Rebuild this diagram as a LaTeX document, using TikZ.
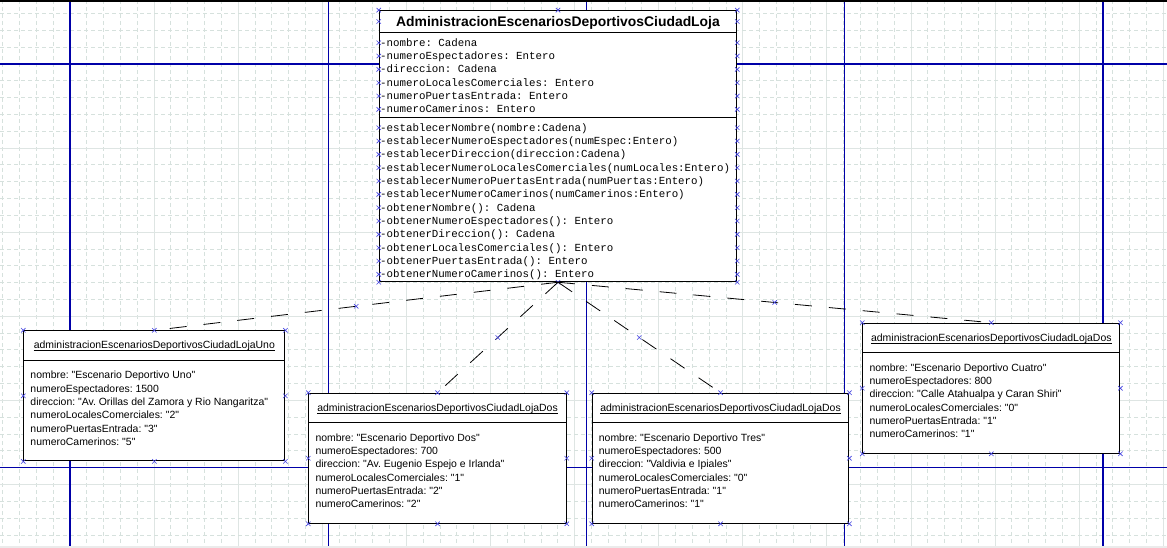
\documentclass[tikz,border=0pt]{standalone}
\usepackage{fontspec}
\usetikzlibrary{calc}
\newfontfamily\codefont{Liberation Mono}
\newfontfamily\objfont{Liberation Sans}
\definecolor{pagebreak}{RGB}{0,0,168}
\definecolor{gridminor}{RGB}{214,225,221}
\definecolor{gridmajor}{RGB}{222,229,227}
\definecolor{handlecol}{RGB}{70,70,225}

\tikzset{
  boxline/.style={draw=black, line width=1.1pt},
  classbox/.style={boxline, fill=white, inner sep=0pt, minimum width=357.4pt, minimum height=271pt},
  objbox/.style={boxline, fill=white, inner sep=0pt, minimum height=130pt},
  classtitle/.style={anchor=base, inner sep=0pt, font=\objfont\bfseries\fontsize{13.9}{16}\selectfont},
  codetext/.style={anchor=base west, inner sep=0pt, font=\codefont\fontsize{10.8}{13}\selectfont},
  objhead/.style={anchor=base, inner sep=0pt, font=\objfont\fontsize{10.45}{12}\selectfont},
  objtext/.style={anchor=base west, inner sep=0pt, font=\objfont\fontsize{10.45}{12}\selectfont},
  depline/.style={draw=black, line width=0.8pt, dash pattern=on 17pt off 17pt},
  pageline/.style={draw=pagebreak, line width=1.1pt},
  selmark/.pic={\draw[handlecol, line width=0.6pt] (-2.2,-2.2) -- (2.2,2.2) (-2.2,2.2) -- (2.2,-2.2);}
}

% object box: name, left, top, width, header, body lines
\newcommand\objectbox[6]{%
  \node[objbox, minimum width=#4pt, anchor=north west] (#1) at (#2,#3) {};
  \draw[boxline] ($(#1.north west)+(0,30)$) -- ($(#1.north east)+(0,30)$);
  \node[objhead] (#1h) at ($(#1.north)+(0,18.3)$) {#5};
  \draw[black, line width=0.8pt] ($(#1h.base west)+(0,2)$) -- ($(#1h.base east)+(0,2)$);
  \foreach [count=\j] \t in {#6}
    \node[objtext] (#1l\j) at ($(#1.north west)+(7,{48.5+13.33*(\j-1)})$) {\t};
  \foreach \a in {north west,north,north east,west,east,south west,south,south east}
    \pic at (#1.\a) {selmark};
}

\begin{document}
\frenchspacing
\begin{tikzpicture}[x=1pt,y=-1pt]
\useasboundingbox (0,0) rectangle (1167,548);
\fill[white] (0,0) rectangle (1167,548);

% background grid
\foreach \k in {-4,...,65}{
  \pgfmathsetmacro\gx{70+16.82*\k}
  \pgfmathtruncatemacro\r{mod(\k+100,5)}
  \ifnum\r=0
    \draw[gridmajor, line width=0.9pt] (\gx,0) -- (\gx,548);
  \else
    \draw[gridminor, line width=0.9pt, dash pattern=on 4pt off 3pt] (\gx,0) -- (\gx,548);
  \fi
}
\foreach \k in {-3,...,28}{
  \pgfmathsetmacro\gy{64+16.82*\k}
  \pgfmathtruncatemacro\r{mod(\k+100,5)}
  \ifnum\r=0
    \draw[gridmajor, line width=0.9pt] (0,\gy) -- (1167,\gy);
  \else
    \draw[gridminor, line width=0.9pt, dash pattern=on 4pt off 3pt] (0,\gy) -- (1167,\gy);
  \fi
}

% page breaks
\foreach \px in {70,328.3,586.5,844.8,1103}
  \draw[pageline] (\px,0) -- (\px,548);
\foreach \py in {64,467.5}
  \draw[pageline] (0,\py) -- (1167,\py);

\fill[black] (0,0) rectangle (1167,2);
\fill[black!8] (0,545.5) rectangle (1167,548);

% class box
\node[classbox] (main) at (558,146.2) {};
\node[classtitle] (title) at ($(main.north)+(0,16)$) {AdministracionEscenariosDeportivosCiudadLoja};
\draw[boxline] ($(main.north west)+(0,22.6)$) -- ($(main.north east)+(0,22.6)$);
\draw[boxline] ($(main.north west)+(0,107)$) -- ($(main.north east)+(0,107)$);

\foreach [count=\i] \t in {
  -nombre: Cadena,
  -numeroEspectadores: Entero,
  -direccion: Cadena,
  -numeroLocalesComerciales: Entero,
  -numeroPuertasEntrada: Entero,
  -numeroCamerinos: Entero}
  \node[codetext] (attr\i) at ($(main.north west)+(1.2,{36+13.33*(\i-1)})$) {\t};

\foreach [count=\i] \t in {
  -establecerNombre(nombre:Cadena),
  -establecerNumeroEspectadores(numEspec:Entero),
  -establecerDireccion(direccion:Cadena),
  -establecerNumeroLocalesComerciales(numLocales:Entero),
  -establecerNumeroPuertasEntrada(numPuertas:Entero),
  -establecerNumeroCamerinos(numCamerinos:Entero),
  -obtenerNombre(): Cadena,
  -obtenerNumeroEspectadores(): Entero,
  -obtenerDireccion(): Cadena,
  -obtenerLocalesComerciales(): Entero,
  -obtenerPuertasEntrada(): Entero,
  -obtenerNumeroCamerinos(): Entero}
  \node[codetext] (op\i) at ($(main.north west)+(1.2,{121+13.33*(\i-1)})$) {\t};

% selection handles of the class box
\foreach \a in {north west,north,north east,south west,south,south east}
  \pic at (main.\a) {selmark};
\pic at ($(main.west |- title.base)+(0,-4.7)$) {selmark};
\pic at ($(main.east |- title.base)+(0,-4.7)$) {selmark};
\foreach \i in {1,...,6}{
  \pic at ($(main.west |- attr\i.base)+(0,-3.4)$) {selmark};
  \pic at ($(main.east |- attr\i.base)+(0,-3.4)$) {selmark};
}
\foreach \i in {1,...,12}{
  \pic at ($(main.west |- op\i.base)+(0,-3.4)$) {selmark};
  \pic at ($(main.east |- op\i.base)+(0,-3.4)$) {selmark};
}

% instances
\objectbox{uno}{23.3}{330.3}{261}{administracionEscenariosDeportivosCiudadLojaUno}{
  nombre: "Escenario Deportivo Uno",
  numeroEspectadores: 1500,
  direccion: "Av. Orillas del Zamora y Rio Nangaritza",
  numeroLocalesComerciales: "2",
  numeroPuertasEntrada: "3",
  numeroCamerinos: "5"}
\objectbox{dos}{308.3}{392.7}{257.4}{administracionEscenariosDeportivosCiudadLojaDos}{
  nombre: "Escenario Deportivo Dos",
  numeroEspectadores: 700,
  direccion: "Av. Eugenio Espejo e Irlanda",
  numeroLocalesComerciales: "1",
  numeroPuertasEntrada: "2",
  numeroCamerinos: "2"}
\objectbox{tres}{591.7}{392.7}{256.6}{administracionEscenariosDeportivosCiudadLojaDos}{
  nombre: "Escenario Deportivo Tres",
  numeroEspectadores: 500,
  direccion: "Valdivia e Ipiales",
  numeroLocalesComerciales: "0",
  numeroPuertasEntrada: "1",
  numeroCamerinos: "1"}
\objectbox{cuatro}{862.3}{322.7}{257}{administracionEscenariosDeportivosCiudadLojaDos}{
  nombre: "Escenario Deportivo Cuatro",
  numeroEspectadores: 800,
  direccion: "Calle Atahualpa y Caran Shiri",
  numeroLocalesComerciales: "0",
  numeroPuertasEntrada: "1",
  numeroCamerinos: "1"}

% instance dependencies
\foreach \o/\m in {uno/m1,dos/m2,tres/m3,cuatro/m4}{
  \draw[depline] (main.south) -- coordinate[pos=0.5] (\m) (\o.north);
  \pic at (\m) {selmark};
}
\end{tikzpicture}
\end{document}
